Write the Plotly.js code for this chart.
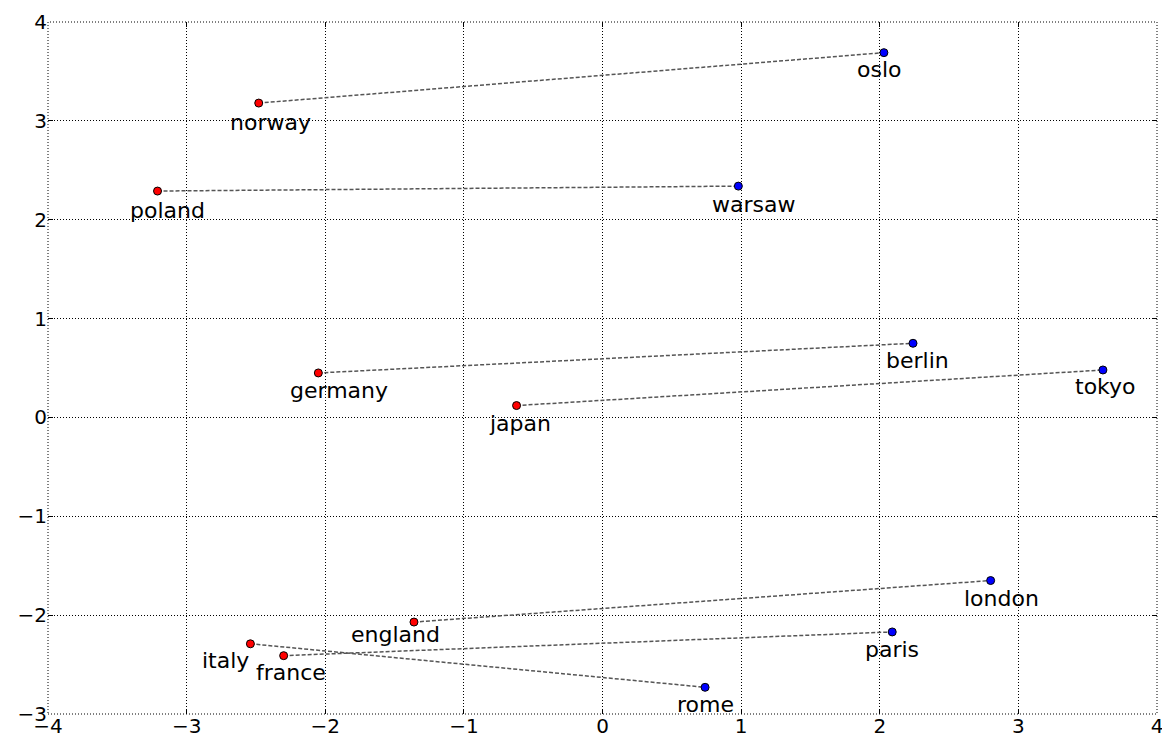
<!DOCTYPE html>
<html>
<head>
<meta charset="utf-8">
<script src="https://cdn.plot.ly/plotly-3.0.1.min.js"></script>
<style>html,body{margin:0;padding:0;background:#fff;}#chart{width:1162px;height:738px;}</style>
</head>
<body>
<div id="chart"></div>
<script>
// Data
const countries = ["norway", "poland", "germany", "japan", "england", "italy", "france"];
const countryX = [-2.48, -3.21, -2.05, -0.62, -1.36, -2.54, -2.30];
const countryY = [3.18, 2.29, 0.45, 0.12, -2.07, -2.29, -2.41];
const capitals = ["oslo", "warsaw", "berlin", "tokyo", "london", "rome", "paris"];
const capitalX = [2.03, 0.98, 2.24, 3.61, 2.80, 0.74, 2.09];
const capitalY = [3.69, 2.34, 0.75, 0.48, -1.65, -2.73, -2.17];
const xTicks = [-4, -3, -2, -1, 0, 1, 2, 3, 4];
const yTicks = [-3, -2, -1, 0, 1, 2, 3, 4];

// Label offsets in pixels (layout only)
const countryShift = [[12, -19], [10, -19], [21, -18], [3, -18], [-18, -12], [-25, -17], [7, -17]];
const capitalShift = [[-4, -17], [15, -18], [4, -17], [3, -17], [11, -18], [0, -17], [0, -18]];

const fmt = v => (v < 0 ? "\u2212" + Math.abs(v) : String(v));

const lx = [], ly = [];
for (let i = 0; i < countries.length; i++) {
  lx.push(countryX[i], capitalX[i], null);
  ly.push(countryY[i], capitalY[i], null);
}

const traces = [
  {x: lx, y: ly, mode: "lines", type: "scatter", hoverinfo: "skip",
   line: {color: "#555555", width: 1.5, dash: "4px,2px"}},
  {x: countryX, y: countryY, mode: "markers", type: "scatter",
   marker: {color: "#ff0000", size: 8, line: {color: "#000", width: 1}}},
  {x: capitalX, y: capitalY, mode: "markers", type: "scatter",
   marker: {color: "#0000ff", size: 8, line: {color: "#000", width: 1}}}
];

const annotations = [];
countries.forEach((c, i) => annotations.push({x: countryX[i], y: countryY[i], xref: "x", yref: "y", text: c,
  showarrow: false, xshift: countryShift[i][0], yshift: countryShift[i][1], xanchor: "center", yanchor: "middle",
  font: {size: 22}}));
capitals.forEach((c, i) => annotations.push({x: capitalX[i], y: capitalY[i], xref: "x", yref: "y", text: c,
  showarrow: false, xshift: capitalShift[i][0], yshift: capitalShift[i][1], xanchor: "center", yanchor: "middle",
  font: {size: 22}}));

const axisCommon = {
  showgrid: true, gridcolor: "#000", griddash: "1px,2px", gridwidth: 1,
  zeroline: false, showline: false, ticks: "inside", ticklen: 5, tickcolor: "#000", tickwidth: 1,
  mirror: "ticks", tickfont: {size: 20, color: "#000"}, ticklabeloverflow: "allow"
};

const layout = {
  width: 1162, height: 738,
  margin: {l: 48, r: 5, t: 22, b: 24},
  paper_bgcolor: "#fff", plot_bgcolor: "#fff",
  showlegend: false,
  font: {family: "DejaVu Sans", size: 20, color: "#000"},
  xaxis: Object.assign({}, axisCommon, {range: [-4.0001, 4.0001], tickvals: xTicks, ticktext: xTicks.map(fmt),
    fixedrange: true, ticklabelstandoff: -2}),
  yaxis: Object.assign({}, axisCommon, {range: [-3.0001, 4.0001], tickvals: yTicks, ticktext: yTicks.map(fmt), fixedrange: true}),
  shapes: [{type: "rect", xref: "paper", yref: "paper", x0: 0, x1: 1, y0: 0, y1: 1,
            line: {color: "#000", width: 1, dash: "1px,2px"}, layer: "below"}],
  annotations: annotations
};

Plotly.newPlot("chart", traces, layout, {displayModeBar: false, staticPlot: true});
</script>
</body>
</html>
